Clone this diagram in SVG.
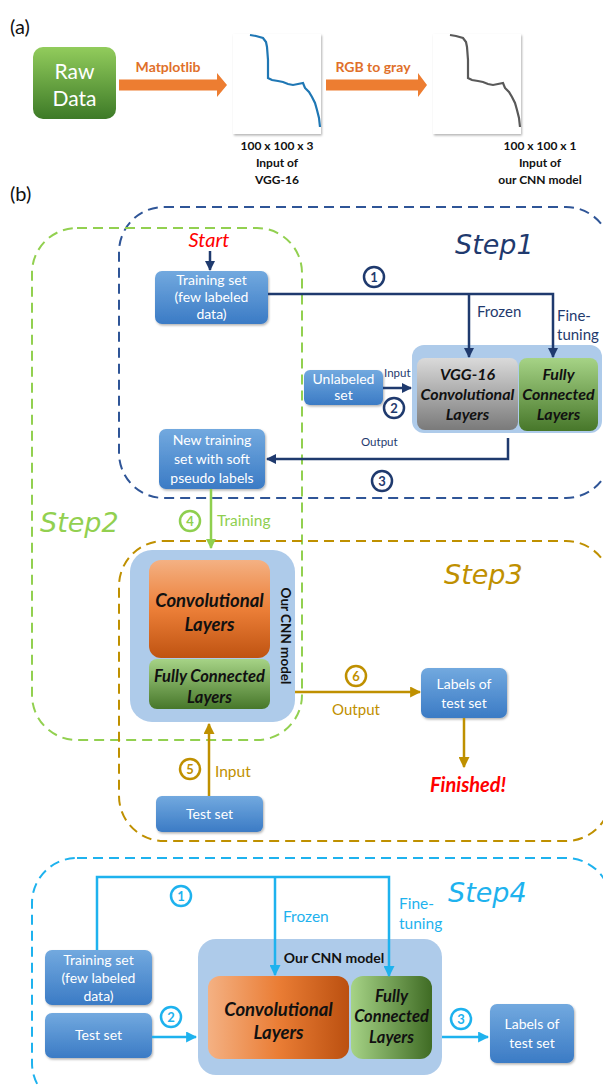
<svg xmlns="http://www.w3.org/2000/svg" width="603" height="1086" viewBox="0 0 603 1086">
<defs>
<linearGradient id="gRaw" x1="0" y1="0" x2="0" y2="1"><stop offset="0" stop-color="#92cc5c"/><stop offset="1" stop-color="#3d7a27"/></linearGradient>
<linearGradient id="gBlue" x1="0" y1="0" x2="0" y2="1"><stop offset="0" stop-color="#72a9df"/><stop offset="1" stop-color="#3b7bc5"/></linearGradient>
<linearGradient id="gGray" x1="0" y1="0" x2="0" y2="1"><stop offset="0" stop-color="#dadada"/><stop offset="1" stop-color="#7a7a7a"/></linearGradient>
<linearGradient id="gGreenV" x1="0" y1="0" x2="0" y2="1"><stop offset="0" stop-color="#a6d386"/><stop offset="1" stop-color="#47772a"/></linearGradient>
<linearGradient id="gGreenH" x1="0" y1="0" x2="1" y2="0"><stop offset="0" stop-color="#a6d386"/><stop offset="1" stop-color="#3f6b24"/></linearGradient>
<linearGradient id="gOrangeV" x1="0" y1="0" x2="0" y2="1"><stop offset="0" stop-color="#f4b183"/><stop offset="0.5" stop-color="#ec7f38"/><stop offset="1" stop-color="#bf5311"/></linearGradient>
<linearGradient id="gOrangeH" x1="0" y1="0" x2="1" y2="0"><stop offset="0" stop-color="#f4b183"/><stop offset="0.5" stop-color="#ea7d35"/><stop offset="1" stop-color="#bb5010"/></linearGradient>
<filter id="sh" x="-10%" y="-10%" width="130%" height="130%"><feDropShadow dx="1" dy="1.5" stdDeviation="1.2" flood-color="#000" flood-opacity="0.3"/></filter>
<marker id="aNavy" viewBox="0 0 10 10" refX="9" refY="5" markerWidth="10" markerHeight="10" markerUnits="userSpaceOnUse" orient="auto"><path d="M0,0 L10,5 L0,10 z" fill="#1f3a6e"/></marker>
<marker id="aGreen" viewBox="0 0 10 10" refX="9" refY="5" markerWidth="10" markerHeight="10" markerUnits="userSpaceOnUse" orient="auto"><path d="M0,0 L10,5 L0,10 z" fill="#8fcf4f"/></marker>
<marker id="aGold" viewBox="0 0 10 10" refX="9" refY="5" markerWidth="11" markerHeight="11" markerUnits="userSpaceOnUse" orient="auto"><path d="M0,0 L10,5 L0,10 z" fill="#bf9000"/></marker>
<marker id="aCyan" viewBox="0 0 10 10" refX="9" refY="5" markerWidth="11" markerHeight="11" markerUnits="userSpaceOnUse" orient="auto"><path d="M0,0 L10,5 L0,10 z" fill="#1eb2ee"/></marker>
<style>
text{font-family:Lato,"Liberation Sans",sans-serif}
.lab{font-size:20px;fill:#111}
.wt{fill:#fff;font-size:14px;text-anchor:middle}
.cap{font-size:12px;font-weight:bold;text-anchor:middle;fill:#111}
.bi{font-weight:bold;font-style:italic;text-anchor:middle;fill:#111}
.step{font-family:"DejaVu Sans",sans-serif;font-style:italic;font-size:27px}
.dash{fill:none;stroke-width:2;stroke-dasharray:10 6}
.navy{stroke:#1f3a6e;stroke-width:2.5;fill:none}
.green{stroke:#8fcf4f;stroke-width:2.5;fill:none}
.gold{stroke:#bf9000;stroke-width:2.5;fill:none}
.cyan{stroke:#1eb2ee;stroke-width:2.5;fill:none}
.num{font-size:13px;font-weight:bold;text-anchor:middle}
</style>
</defs>
<rect width="603" height="1086" fill="#fff"/>

<!-- part (a) -->
<text x="10" y="34" class="lab">(a)</text>
<g id="rawdata">
<rect x="33" y="47" width="83" height="72" rx="10" fill="url(#gRaw)"/>
<text x="74.5" y="79" fill="#fff" font-size="21" text-anchor="middle">Raw</text>
<text x="74.5" y="106" fill="#fff" font-size="21" text-anchor="middle">Data</text>
</g>
<g id="connectors-a">
<polygon points="119,79.5 217,79.5 217,73 227,85 217,97 217,90.5 119,90.5" fill="#ed7d31"/>
<text x="168" y="72" fill="#e0702a" font-size="14" font-weight="bold" text-anchor="middle">Matplotlib</text>
<polygon points="326,79.5 418,79.5 418,73 427,85 418,97 418,90.5 326,90.5" fill="#ed7d31"/>
<text x="373" y="72" fill="#e0702a" font-size="14" font-weight="bold" text-anchor="middle">RGB to gray</text>
</g>
<g id="img-rgb">
<rect x="233" y="34" width="88" height="100" fill="#fff" filter="url(#sh)"/>
<polyline points="250,35 256,36 263,38 266,42 267,47 268,60 268,78 272,80 278,81 283,82 288,84 293,85 298,84 303,83 305,88 309,92 312,97 315,103 317,110 319,118 320,127" fill="none" stroke="#1f77b4" stroke-width="2.2"/>
<text x="277" y="150" class="cap">100 x 100 x 3</text>
<text x="277" y="167" class="cap">Input of</text>
<text x="277" y="184" class="cap">VGG-16</text>
</g>
<g id="img-gray">
<rect x="433" y="34" width="88" height="100" fill="#fff" filter="url(#sh)"/>
<polyline points="450,35 456,36 463,38 466,42 467,47 468,60 468,78 472,80 478,81 483,82 488,84 493,85 498,84 503,83 505,88 509,92 512,97 515,103 517,110 519,118 520,127" fill="none" stroke="#595959" stroke-width="2.2"/>
<text x="540" y="150" class="cap">100 x 100 x 1</text>
<text x="540" y="167" class="cap">Input of</text>
<text x="540" y="184" class="cap">our CNN model</text>
</g>

<!-- part (b) -->
<text x="10" y="201" class="lab">(b)</text>

<g id="regions">
<rect x="119" y="207" width="492" height="291" rx="45" class="dash" stroke="#2f5597"/>
<rect x="32" y="228" width="270" height="512" rx="45" class="dash" stroke="#92d050"/>
<rect x="119" y="541" width="492" height="300" rx="45" class="dash" stroke="#bf9000"/>
<rect x="32" y="858" width="579" height="250" rx="45" class="dash" stroke="#1eb2ee"/>
<text x="455" y="254" class="step" fill="#1f3a6e">Step1</text>
<text x="40" y="532" class="step" fill="#92d050">Step2</text>
<text x="444" y="584" class="step" fill="#bf9000">Step3</text>
<text x="448" y="902" class="step" fill="#1eb2ee">Step4</text>
</g>

<!-- Step1 nodes -->
<text x="209" y="247" fill="#ff0000" font-family="DejaVu Sans" font-style="italic" font-size="20" text-anchor="middle">Start</text>
<g id="train1">
<rect x="155" y="271" width="113" height="53" rx="7" fill="url(#gBlue)" filter="url(#sh)"/>
<text x="211.5" y="285" class="wt">Training set</text>
<text x="211.5" y="302" class="wt">(few labeled</text>
<text x="211.5" y="319" class="wt">data)</text>
</g>
<g id="vggpanel">
<rect x="412" y="345" width="190" height="88" rx="12" fill="#aecbea"/>
</g>
<g id="vgg">
<rect x="417" y="358" width="101" height="72" rx="8" fill="url(#gGray)"/>
<text x="467.5" y="380" class="bi" font-size="16">VGG-16</text>
<text x="467.5" y="400" class="bi" font-size="16">Convolutional</text>
<text x="467.5" y="420" class="bi" font-size="16">Layers</text>
</g>
<g id="fc1">
<rect x="519" y="358" width="79" height="73" rx="8" fill="url(#gGreenV)"/>
<text x="558.5" y="380" class="bi" font-size="16">Fully</text>
<text x="558.5" y="400" class="bi" font-size="16">Connected</text>
<text x="558.5" y="420" class="bi" font-size="16">Layers</text>
</g>
<g id="unlabeled">
<rect x="304" y="370" width="79" height="35" rx="6" fill="url(#gBlue)" filter="url(#sh)"/>
<text x="343.5" y="384" class="wt">Unlabeled</text>
<text x="343.5" y="400" class="wt">set</text>
</g>
<g id="newtrain">
<rect x="159" y="429" width="106" height="60" rx="7" fill="url(#gBlue)" filter="url(#sh)"/>
<text x="212" y="445" class="wt">New training</text>
<text x="212" y="464" class="wt">set with soft</text>
<text x="212" y="483" class="wt">pseudo labels</text>
</g>

<!-- Step2/3 nodes -->
<g id="cnnpanel">
<rect x="130" y="550" width="165" height="172" rx="22" fill="#aecbea"/>
<text transform="translate(281,636) rotate(90)" font-size="13.5" font-weight="bold" text-anchor="middle" fill="#111">Our CNN model</text>
</g>
<g id="conv2">
<rect x="149" y="560" width="121" height="98" rx="12" fill="url(#gOrangeV)"/>
<text x="209.5" y="607" class="bi" font-size="18.5">Convolutional</text>
<text x="209.5" y="631" class="bi" font-size="18.5">Layers</text>
</g>
<g id="fc2">
<rect x="149" y="659" width="121" height="50" rx="8" fill="url(#gGreenV)"/>
<text x="209.5" y="682" class="bi" font-size="16.5">Fully Connected</text>
<text x="209.5" y="703" class="bi" font-size="16.5">Layers</text>
</g>
<g id="testset1">
<rect x="156" y="796" width="107" height="36" rx="6" fill="url(#gBlue)" filter="url(#sh)"/>
<text x="209.5" y="819" class="wt">Test set</text>
</g>
<g id="labels1">
<rect x="421" y="668" width="86" height="50" rx="7" fill="url(#gBlue)" filter="url(#sh)"/>
<text x="464" y="689" class="wt">Labels of</text>
<text x="464" y="708" class="wt">test set</text>
</g>
<text x="468" y="792" fill="#ff0000" font-family="DejaVu Sans" font-weight="bold" font-style="italic" font-size="20" text-anchor="middle">Finished!</text>

<!-- Step4 nodes -->
<g id="cnnpanel4">
<rect x="198" y="939" width="244" height="136" rx="18" fill="#aecbea"/>
<text x="334" y="963" font-size="14" font-weight="bold" text-anchor="middle" fill="#111">Our CNN model</text>
</g>
<g id="conv4">
<rect x="208" y="976" width="141" height="83" rx="12" fill="url(#gOrangeH)"/>
<text x="278.5" y="1016" class="bi" font-size="18.5">Convolutional</text>
<text x="278.5" y="1039" class="bi" font-size="18.5">Layers</text>
</g>
<g id="fc4">
<rect x="351" y="976" width="81" height="83" rx="12" fill="url(#gGreenH)"/>
<text x="391.5" y="1002" class="bi" font-size="16.5">Fully</text>
<text x="391.5" y="1022" class="bi" font-size="16.5">Connected</text>
<text x="391.5" y="1043" class="bi" font-size="16.5">Layers</text>
</g>
<g id="train4">
<rect x="45" y="950" width="107" height="55" rx="7" fill="url(#gBlue)" filter="url(#sh)"/>
<text x="98.5" y="965" class="wt">Training set</text>
<text x="98.5" y="983" class="wt">(few labeled</text>
<text x="98.5" y="1001" class="wt">data)</text>
</g>
<g id="testset4">
<rect x="45" y="1013" width="107" height="45" rx="7" fill="url(#gBlue)" filter="url(#sh)"/>
<text x="98.5" y="1040" class="wt">Test set</text>
</g>
<g id="labels4">
<rect x="490" y="1004" width="84" height="59" rx="7" fill="url(#gBlue)" filter="url(#sh)"/>
<text x="532" y="1029" class="wt">Labels of</text>
<text x="532" y="1048" class="wt">test set</text>
</g>

<!-- connectors -->
<g id="connectors">
<line x1="210" y1="251" x2="210" y2="270" class="navy" stroke-width="2" marker-end="url(#aNavy)"/>
<polyline points="268,294 553,294 553,357" class="navy" marker-end="url(#aNavy)"/>
<line x1="469" y1="294" x2="469" y2="357" class="navy" marker-end="url(#aNavy)"/>
<circle cx="374" cy="277" r="10" fill="#fff" stroke="#1f3a6e" stroke-width="2.5"/>
<text x="374" y="281.5" class="num" fill="#1f3a6e">1</text>
<text x="477" y="317" font-size="15" fill="#1f3a6e">Frozen</text>
<text x="557" y="321" font-size="15" fill="#1f3a6e">Fine-</text>
<text x="557" y="340" font-size="15" fill="#1f3a6e">tuning</text>
<line x1="383" y1="388" x2="411" y2="388" class="navy" marker-end="url(#aNavy)"/>
<text x="384" y="377" font-size="11.5" fill="#1f3a6e">Input</text>
<circle cx="394" cy="408" r="10" fill="#fff" stroke="#1f3a6e" stroke-width="2.5"/>
<text x="394" y="412.5" class="num" fill="#1f3a6e">2</text>
<polyline points="508,438 508,459 267,459" class="navy" marker-end="url(#aNavy)"/>
<text x="361" y="446" font-size="11.5" fill="#1f3a6e">Output</text>
<circle cx="382" cy="481" r="10" fill="#fff" stroke="#1f3a6e" stroke-width="2.5"/>
<text x="382" y="485.5" class="num" fill="#1f3a6e">3</text>

<line x1="211" y1="489" x2="211" y2="548" class="green" marker-end="url(#aGreen)"/>
<circle cx="190" cy="521" r="10" fill="#fff" stroke="#8fcf4f" stroke-width="2.5"/>
<text x="190" y="525.5" class="num" fill="#8fcf4f">4</text>
<text x="217" y="526" font-size="15.5" fill="#8fcf4f">Training</text>

<line x1="209" y1="796" x2="209" y2="724" class="gold" marker-end="url(#aGold)"/>
<circle cx="190" cy="769" r="10" fill="#fff" stroke="#bf9000" stroke-width="2.5"/>
<text x="190" y="773.5" class="num" fill="#bf9000">5</text>
<text x="215" y="777" font-size="15.5" fill="#bf9000">Input</text>
<line x1="295" y1="692" x2="420" y2="692" class="gold" marker-end="url(#aGold)"/>
<circle cx="356" cy="676" r="10" fill="#fff" stroke="#bf9000" stroke-width="2.5"/>
<text x="356" y="680.5" class="num" fill="#bf9000">6</text>
<text x="356" y="715" font-size="15" fill="#bf9000" text-anchor="middle">Output</text>
<line x1="464" y1="718" x2="464" y2="767" class="gold" marker-end="url(#aGold)"/>

<polyline points="97,950 97,877 389,877 389,976" class="cyan" marker-end="url(#aCyan)"/>
<line x1="275" y1="877" x2="275" y2="975" class="cyan" marker-end="url(#aCyan)"/>
<circle cx="181" cy="896" r="10" fill="#fff" stroke="#1eb2ee" stroke-width="2.5"/>
<text x="181" y="900.5" class="num" fill="#1eb2ee">1</text>
<text x="283" y="922" font-size="15.5" fill="#1eb2ee">Frozen</text>
<text x="399" y="909" font-size="15.5" fill="#1eb2ee">Fine-</text>
<text x="399" y="929" font-size="15.5" fill="#1eb2ee">tuning</text>
<line x1="152" y1="1037" x2="196" y2="1037" class="cyan" marker-end="url(#aCyan)"/>
<circle cx="171" cy="1017" r="10" fill="#fff" stroke="#1eb2ee" stroke-width="2.5"/>
<text x="171" y="1021.5" class="num" fill="#1eb2ee">2</text>
<line x1="442" y1="1037" x2="488" y2="1037" class="cyan" marker-end="url(#aCyan)"/>
<circle cx="461" cy="1019" r="10" fill="#fff" stroke="#1eb2ee" stroke-width="2.5"/>
<text x="461" y="1023.5" class="num" fill="#1eb2ee">3</text>
</g>
</svg>
